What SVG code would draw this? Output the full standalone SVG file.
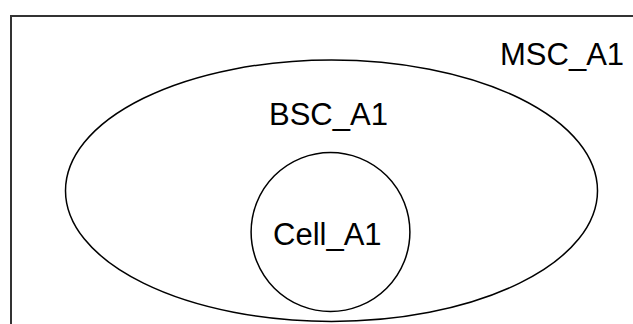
<svg xmlns="http://www.w3.org/2000/svg" width="633" height="324" viewBox="0 0 633 324">
<style>
.frame{fill:none;stroke:#333;stroke-width:2}
.shape{fill:none;stroke:#000;stroke-width:1.5}
.lbl{font-family:"Liberation Sans",Arial,sans-serif;font-size:31px;fill:#000}
</style>
<rect width="633" height="324" fill="#fff"/>
<g id="msc">
<rect class="frame" x="11" y="16" width="700" height="400"/>
<text class="lbl" x="500" y="65">MSC_A1</text>
</g>
<g id="bsc">
<ellipse class="shape" cx="331.5" cy="190.7" rx="266" ry="130.7"/>
<text class="lbl" x="269" y="125">BSC_A1</text>
</g>
<g id="cell">
<ellipse class="shape" cx="330.5" cy="232" rx="79.4" ry="79.5"/>
<text class="lbl" x="273" y="245">Cell_A1</text>
</g>
<g id="connectors"></g>
</svg>
